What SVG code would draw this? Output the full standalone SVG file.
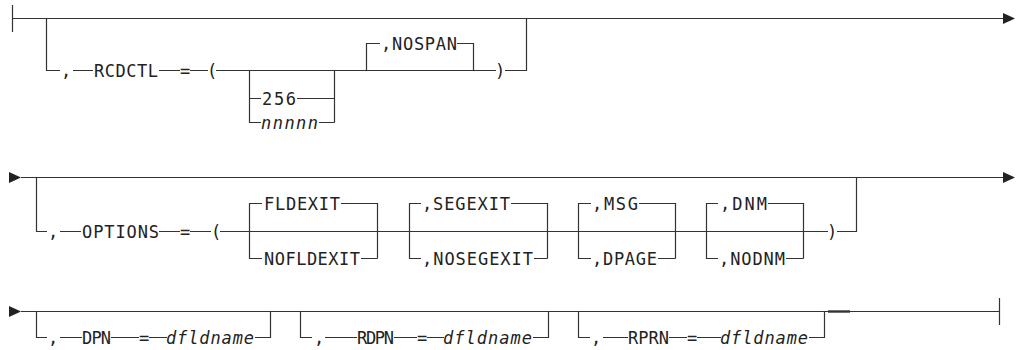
<svg xmlns="http://www.w3.org/2000/svg" width="1016" height="350" viewBox="0 0 1016 350">
<style>
.l{fill:none;stroke:#333;stroke-width:1.2}
.a{fill:#222}
.t{font-family:"DejaVu Sans Mono","Liberation Mono",monospace;font-size:17px;fill:#222}
.i{font-style:italic}
</style>
<rect width="1016" height="350" fill="#fff"/>
<g id="connectors">
<!-- row 1 -->
<path class="l" d="M12.5,5 V32 M12.5,18.5 H1004"/>
<polygon class="a" points="1003,13 1015,18.5 1003,24"/>
<path class="l" d="M46.5,18.5 V70.5 H60 M73,70.5 H93 M159,70.5 H180 M190,70.5 H208 M216,70.5 H496 M505,70.5 H526.5 V18.5"/>
<path class="l" d="M249.5,70.5 V122.5 H261 M249.5,98.5 H261 M297,98.5 H334.5 M319,122.5 H334.5 M334.5,70.5 V122.5"/>
<path class="l" d="M366.5,70.5 V43.5 H380 M457,43.5 H473.5 V70.5"/>
<!-- row 2 -->
<polygon class="a" points="9,172 21,177.5 9,183"/>
<path class="l" d="M21,177.5 H1004"/>
<polygon class="a" points="1003,172 1015,177.5 1003,183"/>
<path class="l" d="M36.5,177.5 V231.5 H47 M60,231.5 H81 M159,231.5 H180 M190,231.5 H211 M220,231.5 H828 M837,231.5 H856.5 V177.5"/>
<path class="l" d="M262,203.5 H249.5 V258.5 H262 M341,203.5 H377.5 V258.5 M361,258.5 H377.5"/>
<path class="l" d="M421,203.5 H409.5 V258.5 H421 M511,203.5 H547.5 V258.5 M534,258.5 H547.5"/>
<path class="l" d="M591,203.5 H578.5 V258.5 H591 M639,203.5 H675.5 V258.5 M658,258.5 H675.5"/>
<path class="l" d="M718,203.5 H706.5 V258.5 H718 M768,203.5 H803.5 V258.5 M786,258.5 H803.5"/>
<!-- row 3 -->
<polygon class="a" points="9,306 21,311.5 9,317"/>
<path class="l" d="M21,311.5 H999.5 M999.5,298 V325"/>
<path class="l" d="M828,311.5 H850" style="stroke-width:2.4"/>
<path class="l" d="M36.5,311.5 V337.5 H47 M60,337.5 H82 M111,337.5 H139 M149,337.5 H167 M255,337.5 H270.5 V311.5"/>
<path class="l" d="M300.5,311.5 V337.5 H312 M325,337.5 H357 M394,337.5 H417 M427,337.5 H444 M533,337.5 H548.5 V311.5"/>
<path class="l" d="M578.5,311.5 V337.5 H590 M603,337.5 H628 M669,337.5 H687 M697,337.5 H721 M809,337.5 H824.5 V311.5"/>
</g>
<g id="rcdctl">
<text class="t" x="61" y="76.5">,</text>
<text class="t" x="94" y="76.5" textLength="64">RCDCTL</text>
<text class="t" x="180" y="76.5">=</text>
<text class="t" x="207" y="76.5">(</text>
<text class="t" x="495" y="76.5">)</text>
</g>
<g id="rcdctl-length">
<text class="t" x="262" y="104.5" textLength="34">256</text>
<text class="t i" x="261" y="128.5" textLength="57">nnnnn</text>
</g>
<g id="nospan">
<text class="t" x="381" y="49.5" textLength="76">,NOSPAN</text>
</g>
<g id="options">
<text class="t" x="48" y="237.5">,</text>
<text class="t" x="82" y="237.5" textLength="77">OPTIONS</text>
<text class="t" x="180" y="237.5">=</text>
<text class="t" x="211" y="237.5">(</text>
<text class="t" x="827" y="237.5">)</text>
</g>
<g id="fldexit">
<text class="t" x="264" y="209.5" textLength="76">FLDEXIT</text>
<text class="t" x="264" y="264.5" textLength="96">NOFLDEXIT</text>
</g>
<g id="segexit">
<text class="t" x="422" y="209.5" textLength="88">,SEGEXIT</text>
<text class="t" x="422" y="264.5" textLength="111">,NOSEGEXIT</text>
</g>
<g id="msg">
<text class="t" x="592" y="209.5" textLength="46">,MSG</text>
<text class="t" x="592" y="264.5" textLength="65">,DPAGE</text>
</g>
<g id="dnm">
<text class="t" x="720" y="209.5" textLength="47">,DNM</text>
<text class="t" x="719" y="264.5" textLength="66">,NODNM</text>
</g>
<g id="dpn">
<text class="t" x="48" y="343.5">,</text>
<text class="t" x="82" y="343.5" textLength="29">DPN</text>
<text class="t" x="139" y="343.5">=</text>
<text class="t i" x="166" y="343.5" textLength="88">dfldname</text>
</g>
<g id="rdpn">
<text class="t" x="314" y="343.5">,</text>
<text class="t" x="357" y="343.5" textLength="37">RDPN</text>
<text class="t" x="417" y="343.5">=</text>
<text class="t i" x="443" y="343.5" textLength="89">dfldname</text>
</g>
<g id="rprn">
<text class="t" x="591" y="343.5">,</text>
<text class="t" x="628" y="343.5" textLength="41">RPRN</text>
<text class="t" x="687" y="343.5">=</text>
<text class="t i" x="720" y="343.5" textLength="88">dfldname</text>
</g>
</svg>
